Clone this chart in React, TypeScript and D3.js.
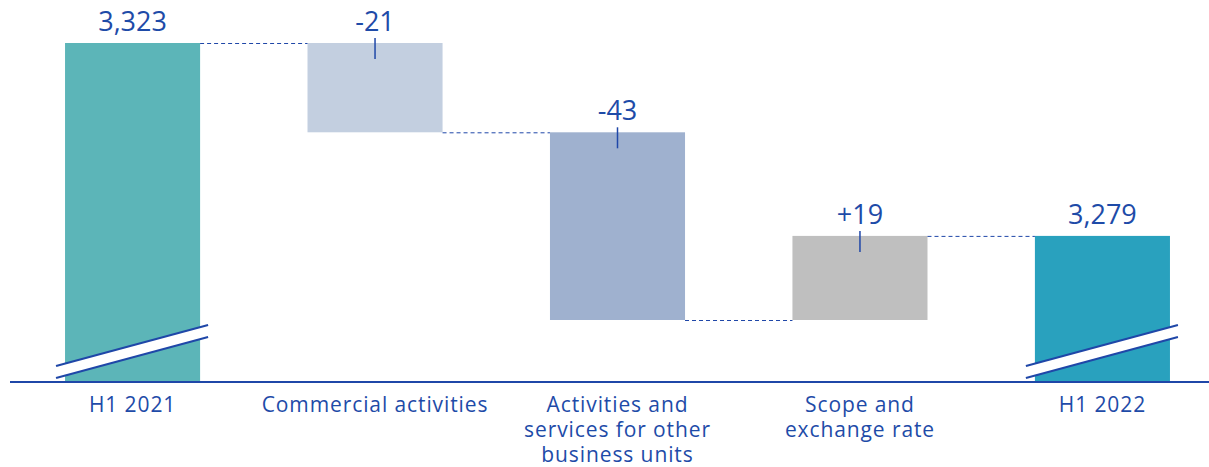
import React, { useEffect, useRef } from "react";
import * as d3 from "d3";

const categories: string[][] = [
  ["H1 2021"],
  ["Commercial activities"],
  ["Activities and", "services for other", "business units"],
  ["Scope and", "exchange rate"],
  ["H1 2022"],
];
const kinds = ["total", "delta", "delta", "delta", "total"];
const startValue = 3323.4;
const deltas = [-20.6, -43.3, 19.4];
const colors = ["#5CB5B8", "#C3CFE0", "#9FB1CF", "#BFBFBF", "#29A1BE"];

const W = 1209;
const H = 467;
const TEXT = "#1E4BA8";
const LINE = "#1F47A8";
const FONT = "'Open Sans', sans-serif";

export default function App() {
  const ref = useRef<SVGSVGElement | null>(null);

  useEffect(() => {
    document.body.style.margin = "0";
    const svg = d3.select(ref.current);
    svg.selectAll("*").remove();

    const locale = d3.formatLocale({
      decimal: ".",
      thousands: ",",
      grouping: [3],
      currency: ["", ""],
      minus: "-",
    });
    const fmtTotal = locale.format(",.0f");
    const fmtDelta = locale.format("+.0f");

    type Row = { i: number; lo: number; hi: number; value: number; kind: string; label: string };
    const rows: Row[] = [];
    let run = startValue;
    rows.push({ i: 0, lo: NaN, hi: startValue, value: startValue, kind: kinds[0], label: fmtTotal(startValue) });
    deltas.forEach((d, k) => {
      const prev = run;
      run = run + d;
      rows.push({
        i: k + 1,
        lo: Math.min(prev, run),
        hi: Math.max(prev, run),
        value: d,
        kind: kinds[k + 1],
        label: fmtDelta(d),
      });
    });
    rows.push({ i: 4, lo: NaN, hi: run, value: run, kind: kinds[4], label: fmtTotal(run) });

    const baseY = 382;
    const x = d3
      .scaleBand<number>()
      .domain(d3.range(categories.length))
      .range([10, 1225])
      .paddingInner(0.443)
      .paddingOuter(0.227);
    const minV = d3.min(rows.filter((r) => r.kind === "delta"), (r) => r.lo) as number;
    const y = d3.scaleLinear().domain([minV, startValue]).range([320, 43]);

    const g = svg.append("g");

    rows.forEach((r) => {
      const top = y(r.hi);
      const bottom = r.kind === "total" ? baseY : y(r.lo);
      g.append("rect")
        .attr("x", x(r.i)!)
        .attr("y", top)
        .attr("width", x.bandwidth())
        .attr("height", bottom - top)
        .attr("fill", colors[r.i]);
    });

    const levels: number[] = [];
    let acc = startValue;
    levels.push(acc);
    deltas.forEach((d) => {
      acc += d;
      levels.push(acc);
    });
    for (let k = 0; k < rows.length - 1; k++) {
      const lv = y(levels[k]);
      g.append("line")
        .attr("x1", x(k)! + x.bandwidth())
        .attr("x2", x(k + 1)!)
        .attr("y1", lv + 0.5)
        .attr("y2", lv + 0.5)
        .attr("stroke", LINE)
        .attr("stroke-width", 1)
        .attr("stroke-dasharray", "4,3");
    }

    g.append("line")
      .attr("x1", 10)
      .attr("x2", W)
      .attr("y1", baseY)
      .attr("y2", baseY)
      .attr("stroke", LINE)
      .attr("stroke-width", 2);

    rows
      .filter((r) => r.kind === "total")
      .forEach((r) => {
        const x0 = x(r.i)! - 9;
        const x1 = x(r.i)! + x.bandwidth() + 8;
        const yTop0 = baseY - 16;
        const rise = 41;
        const gap = 12;
        g.append("path")
          .attr(
            "d",
            `M${x0},${yTop0} L${x1},${yTop0 - rise} L${x1},${yTop0 - rise + gap} L${x0},${yTop0 + gap} Z`
          )
          .attr("fill", "#fff");
        [0, gap].forEach((off) => {
          g.append("line")
            .attr("x1", x0)
            .attr("y1", yTop0 + off)
            .attr("x2", x1)
            .attr("y2", yTop0 - rise + off)
            .attr("stroke", LINE)
            .attr("stroke-width", 2);
        });
      });

    rows.forEach((r) => {
      const cx = x(r.i)! + x.bandwidth() / 2;
      const top = y(r.hi);
      g.append("text")
        .attr("x", cx)
        .attr("y", top - 12)
        .attr("text-anchor", "middle")
        .attr("font-family", FONT)
        .attr("font-size", 27)
        .attr("fill", TEXT)
        .text(r.label);
      if (r.kind === "delta") {
        g.append("line")
          .attr("x1", cx)
          .attr("x2", cx)
          .attr("y1", top - 5)
          .attr("y2", top + 16)
          .attr("stroke", LINE)
          .attr("stroke-width", 1.5);
      }
    });

    categories.forEach((lines, i) => {
      const cx = x(i)! + x.bandwidth() / 2;
      const t = g
        .append("text")
        .attr("text-anchor", "middle")
        .attr("font-family", FONT)
        .attr("font-size", 21)
        .attr("letter-spacing", 0.9)
        .attr("fill", TEXT);
      lines.forEach((ln, j) => {
        t.append("tspan").attr("x", cx).attr("y", 412 + j * 25).text(ln);
      });
    });
  }, []);

  return <svg ref={ref} width={W} height={H} style={{ display: "block" }} />;
}
